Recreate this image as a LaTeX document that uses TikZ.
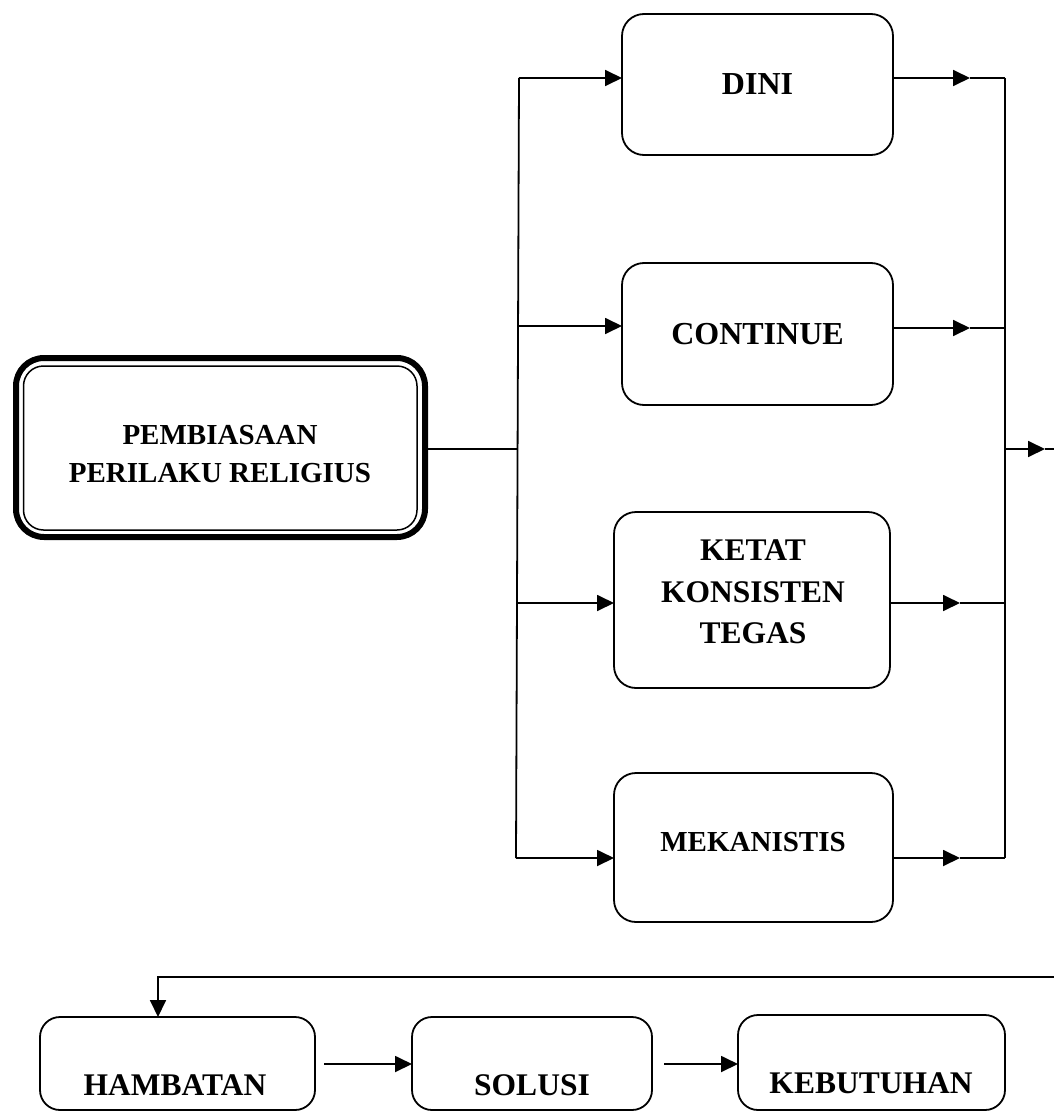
\documentclass[tikz,border=0pt]{standalone}
\usepackage{fontspec}
\setmainfont{Liberation Serif}
\usetikzlibrary{arrows.meta,calc}
\begin{document}
\begin{tikzpicture}[x=1pt,y=-1pt,
  box/.style={draw, line width=1.8pt, rounded corners=22pt, inner sep=0pt, outer sep=0pt, align=center},
  txt/.style={font=\bfseries\fontsize{#1}{41}\selectfont, align=center, inner sep=0pt},
  txt/.default=31.5,
  ln/.style={line width=1.8pt},
  arr/.style={line width=1.8pt, -{Triangle[length=17pt,width=16pt]}}]
\useasboundingbox (0,0) rectangle (1054,1113);

% main node
\node[draw, line width=6pt, rounded corners=28pt, outer sep=0pt, inner sep=0pt,
      minimum width=409pt, minimum height=179pt] (main) at (220.5,447.5) {};
\draw[line width=1.5pt, rounded corners=20pt] ($(main.north west)+(7.5,8)$) rectangle ($(main.south east)+(-8,-7)$);
\node[txt=29, font=\bfseries\fontsize{29}{38}\selectfont] (mainlbl) at (220,454) {PEMBIASAAN\\PERILAKU RELIGIUS};

% right column boxes
\node[box, minimum width=271pt, minimum height=141pt, font=\bfseries\fontsize{32}{40}\selectfont] (dini) at (757.5,84.5) {DINI};
\node[box, minimum width=271pt, minimum height=142pt, font=\bfseries\fontsize{32}{40}\selectfont] (cont) at (757.5,334) {CONTINUE};
\node[box, minimum width=276pt, minimum height=176pt] (ketat) at (752,600) {};
\node[txt, font=\bfseries\fontsize{31.5}{41.5}\selectfont] (ketatlbl) at (753,592) {KETAT\\KONSISTEN\\TEGAS};
\node[box, minimum width=279pt, minimum height=149pt] (mek) at (753.5,847.5) {};
\node[txt=29] (meklbl) at (753,842) {MEKANISTIS};

% bottom boxes
\node[box, rounded corners=20pt, minimum width=275pt, minimum height=93pt] (hamb) at (177.5,1063.5) {};
\node[txt] (hamblbl) at (175,1085) {HAMBATAN};
\node[box, rounded corners=20pt, minimum width=240pt, minimum height=93pt] (sol) at (532,1063.5) {};
\node[txt] (sollbl) at (532,1085) {SOLUSI};
\node[box, rounded corners=20pt, minimum width=267pt, minimum height=95pt] (keb) at (871.5,1062.5) {};
\node[txt] (keblbl) at (871,1083) {KEBUTUHAN};

% left trunk
\coordinate (b1) at (519,78);
\coordinate (b2) at (518,326);
\coordinate (b3) at (517,603);
\coordinate (b4) at (516,858);
\draw[ln] (main.east |- 0,449) -- (518,449);
\draw[ln] (b1) -- (b4);
\draw[arr] (b1) -- (b1 -| dini.west);
\draw[arr] (b2) -- (b2 -| cont.west);
\draw[arr] (b3) -- (b3 -| ketat.west);
\draw[arr] (b4) -- (b4 -| mek.west);

% right trunk
\coordinate (r1) at (1005,78);
\coordinate (r2) at (1005,328);
\coordinate (r3) at (1005,603);
\coordinate (r4) at (1005,858);
\coordinate (m1) at (970,78);
\coordinate (m2) at (970,328);
\coordinate (m3) at (960,603);
\coordinate (m4) at (960,858);
\draw[arr] (m1 -| dini.east) -- (m1);
\draw[ln] (m1) -- (r1);
\draw[arr] (m2 -| cont.east) -- (m2);
\draw[ln] (m2) -- (r2);
\draw[arr] (m3 -| ketat.east) -- (m3);
\draw[ln] (m3) -- (r3);
\draw[arr] (m4 -| mek.east) -- (m4);
\draw[ln] (m4) -- (r4);
\draw[ln] (r1) -- (r4);
\coordinate (ro) at (1005,449);
\coordinate (rotip) at (1045,449);
\coordinate (roend) at (1054,449);
\draw[arr] (ro) -- (rotip);
\draw[ln] (rotip) -- (roend);

% bottom connectors
\coordinate (bs) at (1054,977);
\coordinate (hin) at (158,977);
\draw[arr] (bs) -- (hin) -- (hin |- hamb.north);
\coordinate (a1) at (324,1064);
\coordinate (a2) at (664,1064);
\draw[arr] (a1) -- (a1 -| sol.west);
\draw[arr] (a2) -- (a2 -| keb.west);
\end{tikzpicture}
\end{document}
